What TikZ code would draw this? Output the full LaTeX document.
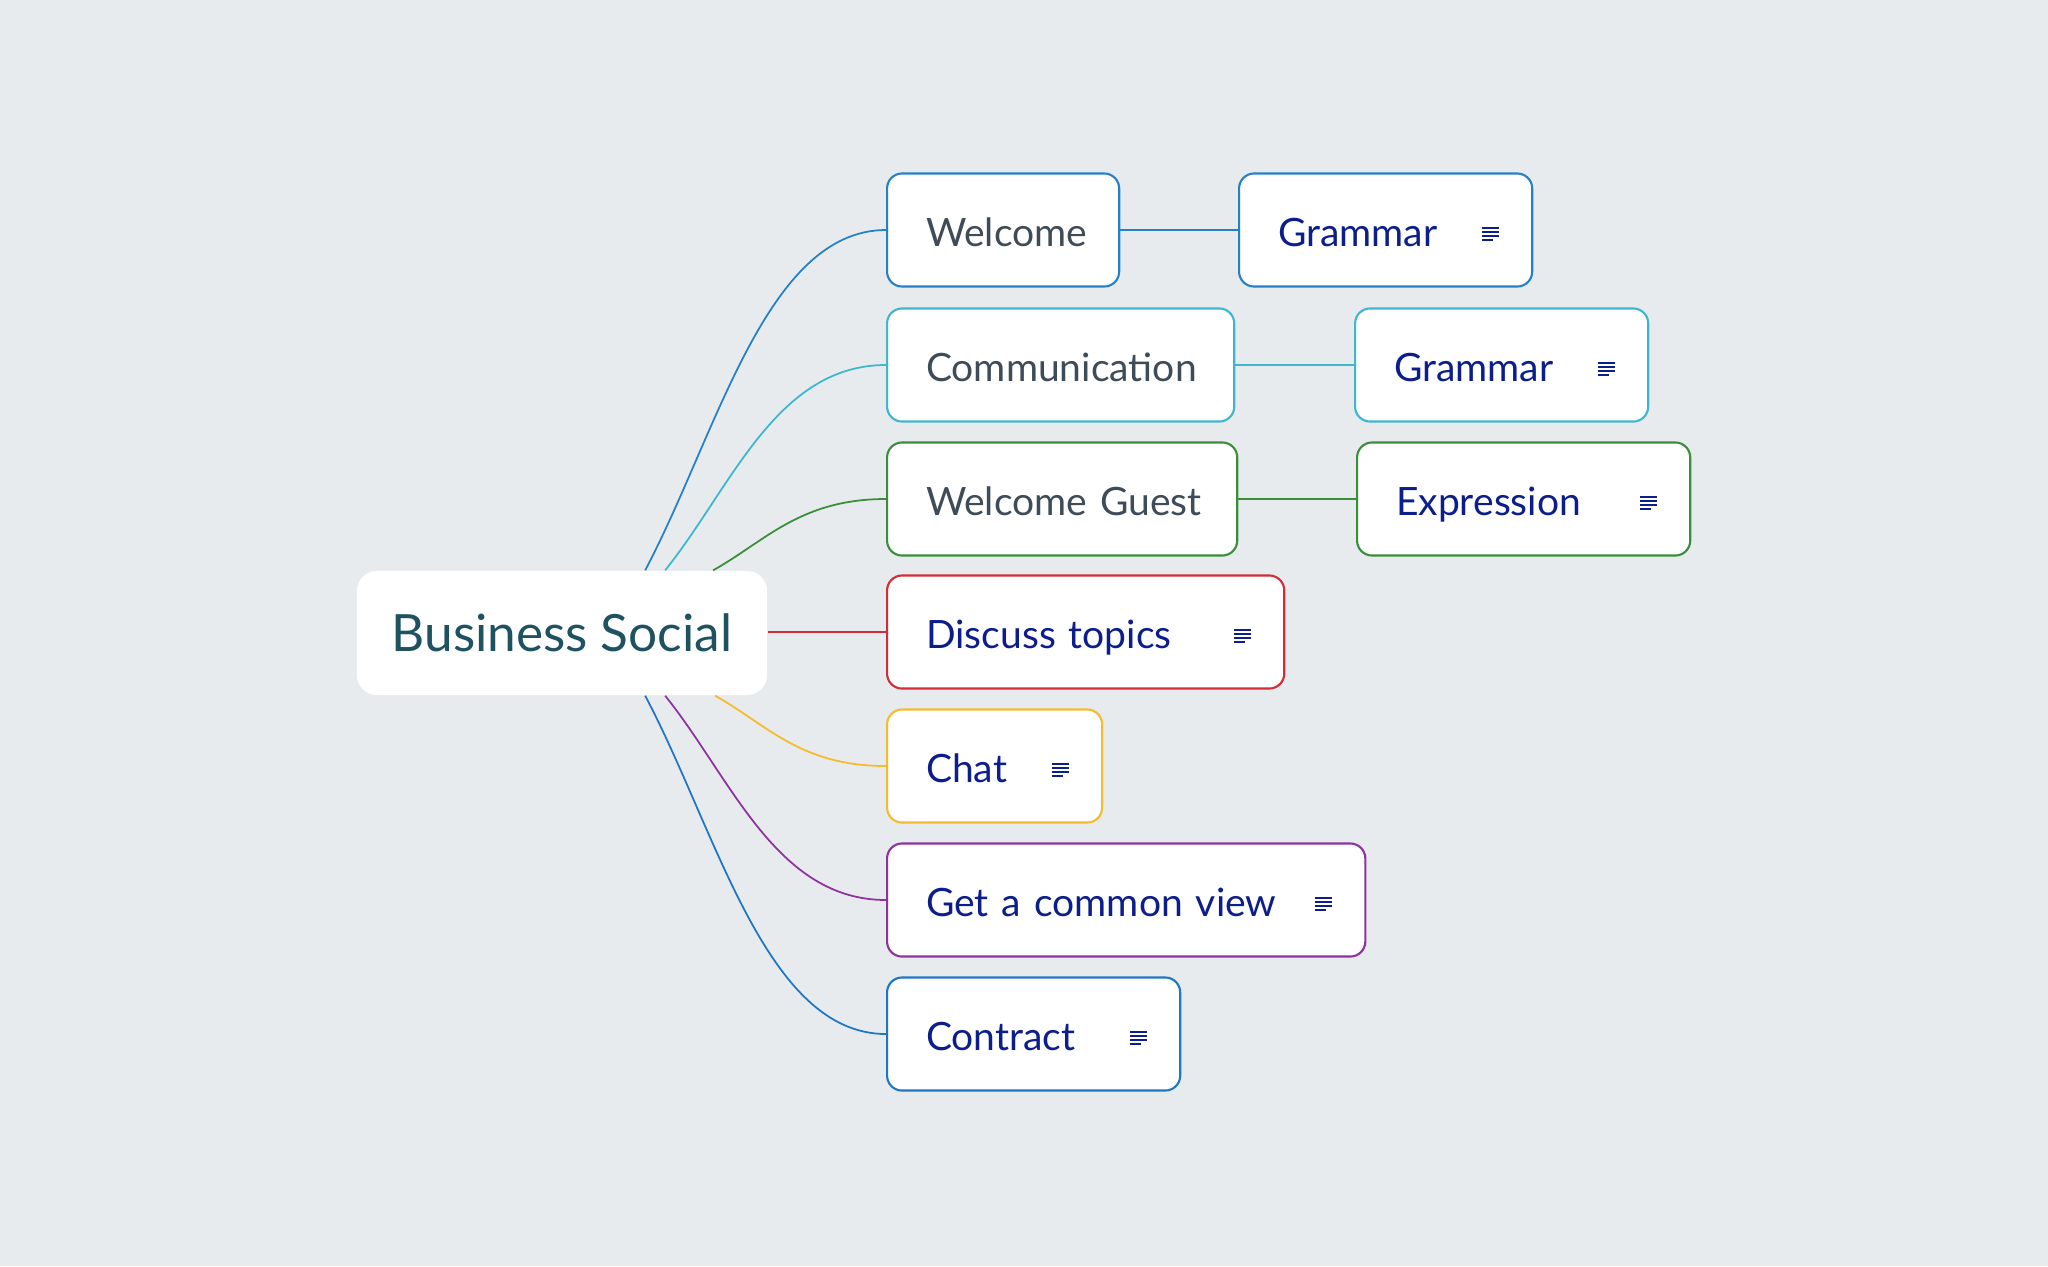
\documentclass[tikz,border=0pt]{standalone}
\usepackage{fontspec}
\setmainfont{Lato}
\usetikzlibrary{calc}
\definecolor{bgc}{RGB}{231,235,238}
\definecolor{cblue}{RGB}{38,128,200}
\definecolor{ccyan}{RGB}{62,182,206}
\definecolor{cgreen}{RGB}{58,142,58}
\definecolor{cred}{RGB}{212,44,52}
\definecolor{cyellow}{RGB}{246,186,44}
\definecolor{cpurple}{RGB}{142,50,160}
\definecolor{ctblue}{RGB}{30,118,196}
\definecolor{midtext}{RGB}{62,76,89}
\definecolor{leaftext}{RGB}{12,30,140}
\definecolor{roottext}{RGB}{30,82,96}
\tikzset{
  lv/.style 2 args={rectangle, rounded corners=0.15cm, fill=white, draw=#1,
    line width=0.6pt, minimum height=1.13cm, inner xsep=0.39cm, inner ysep=0pt,
    text height=9.6pt, text depth=0pt,
    anchor=west, text width=#2, align=left, font=\fontsize{11.1}{13}\selectfont},
  mid/.style={text=midtext},
  leaf/.style={text=leaftext},
  conn/.style={line width=0.5pt, draw=#1},
  rootbox/.style={rectangle, rounded corners=0.2cm, fill=white, minimum width=4.10cm,
    minimum height=1.24cm, text height=10.4pt, text depth=0pt, inner ysep=0pt,
    text=roottext, font=\fontsize{14.6}{17}\selectfont},
  noteicon/.pic={
    \draw[leaftext, line width=0.6pt] (-8.5,-6)--(8.5,-6) (-8.5,-2)--(8.5,-2) (-8.5,2)--(8.5,2) (-8.5,6)--(2.5,6);
  }
}
\begin{document}
\begin{tikzpicture}[x=0.01cm,y=-0.01cm]
\fill[bgc] (0,0) rectangle (2048,1266);
\useasboundingbox (0,0) rectangle (2048,1266);

\node[rootbox] (root) at (562,633) {Business Social};

\node[lv={cblue}{1.54cm}, mid] (welcome) at (886,230) {\mbox{Welcome}};
\node[lv={ccyan}{2.69cm}, mid] (comm) at (886,365) {\mbox{Communication}};
\node[lv={cgreen}{2.72cm}, mid] (guest) at (886,499) {\mbox{Welcome Guest}};
\node[lv={cred}{3.19cm}, leaf] (discuss) at (886,632) {\mbox{Discuss topics}};
\node[lv={cyellow}{1.37cm}, leaf] (chat) at (886,766) {\mbox{Chat}};
\node[lv={cpurple}{4.00cm}, leaf] (view) at (886,900) {\mbox{Get a common view}};
\node[lv={ctblue}{2.15cm}, leaf] (contract) at (886,1034) {\mbox{Contract}};

\node[lv={cblue}{2.15cm}, leaf] (gram1) at (1238,230) {\mbox{Grammar}};
\node[lv={ccyan}{2.15cm}, leaf] (gram2) at (1354,365) {\mbox{Grammar}};
\node[lv={cgreen}{2.55cm}, leaf] (expr) at (1356,499) {\mbox{Expression}};

\foreach \n in {gram1,gram2,expr,discuss,chat,view,contract}{
  \pic at ($(\n.east)+(-43,4)$) {noteicon};
}

\coordinate (s1) at ($(root.north west)+(289,0)$);
\coordinate (s2) at ($(root.north west)+(309,0)$);
\coordinate (s3) at ($(root.north west)+(357,0)$);
\coordinate (s5) at ($(root.south west)+(359,0)$);
\coordinate (s6) at ($(root.south west)+(309,0)$);
\coordinate (s7) at ($(root.south west)+(289,0)$);

\draw[conn=cblue] (s1) .. controls +(72,-136) and +(-120,0) .. (welcome.west);
\draw[conn=ccyan] (s2) .. controls +(66,-82) and +(-110,0) .. (comm.west);
\draw[conn=cgreen] (s3) .. controls +(52,-29) and +(-86,0) .. (guest.west);
\draw[conn=cred] (root.east |- discuss.west) -- (discuss.west);
\draw[conn=cyellow] (s5) .. controls +(52,29) and +(-86,0) .. (chat.west);
\draw[conn=cpurple] (s6) .. controls +(66,82) and +(-110,0) .. (view.west);
\draw[conn=ctblue] (s7) .. controls +(72,136) and +(-120,0) .. (contract.west);

\draw[conn=cblue] (welcome.east) -- (gram1.west);
\draw[conn=ccyan] (comm.east) -- (gram2.west);
\draw[conn=cgreen] (guest.east) -- (expr.west);
\end{tikzpicture}
\end{document}
